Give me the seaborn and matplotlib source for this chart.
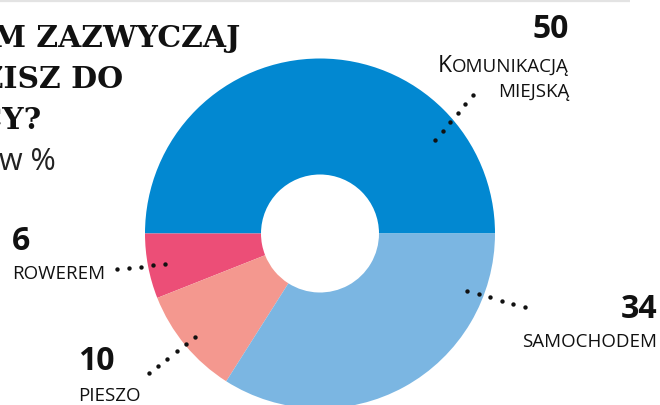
import numpy as np
import matplotlib
matplotlib.use("Agg")
import matplotlib.pyplot as plt
import seaborn as sns

# Survey: how do you usually get to work (shares in %)
categories = ["Komunikacją miejską", "Rowerem", "Pieszo", "Samochodem"]
shares = [50, 6, 10, 34]
slice_colors = ["#0288D1", "#EC4E77", "#F4988F", "#7BB6E2"]

title_lines = ["CZYM ZAZWYCZAJ", "JEŹDZISZ DO", "PRACY?"]
unit_label = "w %"

sns.set_theme(style="white")
plt.rcParams["font.family"] = ["Open Sans", "DejaVu Sans"]

W, H = 660, 405
fig = plt.figure(figsize=(W / 100, H / 100), dpi=100)
fig.patch.set_facecolor("white")

# Donut axes: centre and radius in pixels
cx, cy, R, r_in = 320, 233.5, 175, 59
ax = fig.add_axes([(cx - R) / W, (H - cy - R) / H, 2 * R / W, 2 * R / H])
palette = sns.color_palette(slice_colors)
ax.pie(shares, colors=palette, startangle=0, counterclock=True, radius=1,
       wedgeprops=dict(width=1 - r_in / R, linewidth=0))
ax.set_xlim(-1, 1)
ax.set_ylim(-1, 1)
ax.axis("off")

# Overlay in pixel coordinates for the headline, labels and leader dots
ov = fig.add_axes([0, 0, 1, 1])
ov.set_xlim(0, W)
ov.set_ylim(H, 0)
ov.axis("off")
ov.patch.set_alpha(0)

ov.plot([0, 630], [1, 1], color="#e3e3e3", lw=1.6, solid_capstyle="butt")

# Headline (slab serif, bold), running in from the left edge
title_ends = [240, 123, 42]
title_base = [47, 88, 129]
for line, xe, yb in zip(title_lines, title_ends, title_base):
    ov.text(xe, yb, line, ha="right", va="baseline", fontsize=21.5,
            fontweight="bold", family=["DejaVu Serif"], color="#111111")
ov.text(-1, 170, unit_label, ha="left", va="baseline", fontsize=22,
        color="#222222", family=["Open Sans", "DejaVu Sans"])

num_kw = dict(fontsize=23, fontweight="bold", color="#111111", va="baseline")
cap_kw = dict(fontsize=13.5, color="#111111", va="baseline")

# Komunikacją miejską
ov.text(569, 38, f"{shares[0]}", ha="right", **num_kw)
rest = ov.text(569, 72, "OMUNIKACJĄ", ha="right", **cap_kw)
ov.text(569, 97, "MIEJSKĄ", ha="right", **cap_kw)
fig.canvas.draw()
bb = rest.get_window_extent(fig.canvas.get_renderer())
ov.text(bb.x0 - 0.5, 72, "K", ha="right", fontsize=16.5, color="#111111",
        va="baseline")

# Rowerem
ov.text(12, 250, f"{shares[1]}", ha="left", **num_kw)
ov.text(12, 279, "ROWEREM", ha="left", **cap_kw)

# Pieszo
ov.text(78, 370, f"{shares[2]}", ha="left", **num_kw)
ov.text(78, 401, "PIESZO", ha="left", **cap_kw)

# Samochodem
ov.text(657, 318, f"{shares[3]}", ha="right", **num_kw)
ov.text(657, 347, "SAMOCHODEM", ha="right", **cap_kw)

# Dotted leaders: (start, end, number of dots)
leaders = [((435, 140), (473, 95), 6),
           ((117, 269), (165, 264), 5),
           ((149, 373), (195, 337), 6),
           ((467, 291), (525, 307), 6)]
for (x0, y0), (x1, y1), n in leaders:
    ov.scatter(np.linspace(x0, x1, n), np.linspace(y0, y1, n), s=10,
               color="#111111", linewidths=0, zorder=5)

fig.savefig("out.png", dpi=100, facecolor="white")
